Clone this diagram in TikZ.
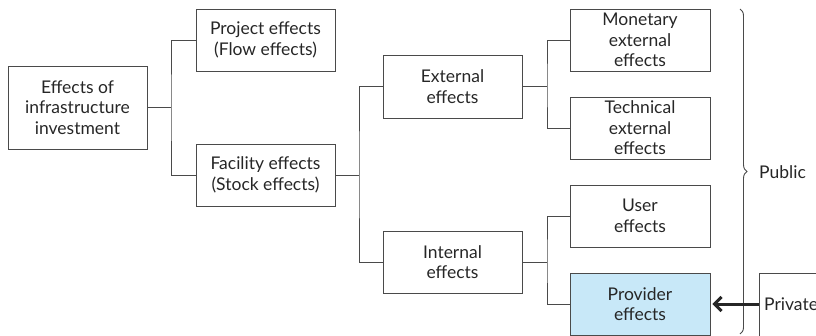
\documentclass[tikz,border=0pt]{standalone}
\usepackage{fontspec}
\setmainfont{Lato}
\usetikzlibrary{arrows.meta,decorations.pathreplacing}
\definecolor{linegray}{HTML}{4A4A4A}
\definecolor{textgray}{HTML}{262626}
\definecolor{provblue}{HTML}{C8E8F8}
\begin{document}
\begin{tikzpicture}[x=1pt,y=-1pt,
  lbl/.style={text=textgray,font=\fontsize{17.5}{20.5}\selectfont},
  box/.style={lbl,draw=linegray,line width=0.9pt,minimum width=139pt,minimum height=62pt,
    align=center,inner sep=0pt},
  link/.style={draw=linegray,line width=0.9pt}]
\useasboundingbox (0,0) rectangle (816,335);
\begin{scope}
\clip (0,0) rectangle (816,335);
% boxes
\node[box,minimum height=83pt] (root) at (77.5,107.5) {Effects of\\infrastructure\\investment};
\node[box] (proj) at (265.5,40) {Project effects\\(Flow effects)};
\node[box] (fac) at (265.5,175) {Facility effects\\(Stock effects)};
\node[box,minimum height=63pt] (ext) at (452.5,86.5) {External\\effects};
\node[box] (int) at (452.5,262) {Internal\\effects};
\node[box,minimum width=140pt] (mon) at (640,40) {Monetary\\external\\effects};
\node[box,minimum width=140pt] (tech) at (640,128) {Technical\\external\\effects};
\node[box,minimum width=140pt] (user) at (640,216) {User\\effects};
\node[box,minimum width=140pt,fill=provblue] (prov) at (640,304) {Provider\\effects};
\node[box,minimum width=80pt,minimum height=70pt,anchor=north west] (priv) at (759,273) {};
\node[lbl,anchor=west,inner sep=0pt] (privtxt) at (764,304) {Private};
% tree connectors
\draw[link] (root.east) -- (171,107.5) coordinate (j1);
\draw[link] (proj.west) -| (j1) |- (fac.west);
\draw[link] (fac.east) -- (359,175) coordinate (j2);
\draw[link] (ext.west) -| (j2) |- (int.west);
\draw[link] (ext.east) -- (547,86.5) coordinate (j3);
\draw[link] (mon.west) -| (j3) |- (tech.west);
\draw[link] (int.east) -- (547,262) coordinate (j4);
\draw[link] (user.west) -| (j4) |- (prov.west);
% brace and labels
\coordinate (btop) at (740,9);
\coordinate (bbot) at (740,334);
\draw[link,decorate,decoration={brace,amplitude=7pt}] (btop) -- (bbot);
\node[lbl,anchor=west,inner sep=0pt] (pub) at (759,172) {Public};
% arrow from private to provider
\draw[line width=3pt,textgray,-{Straight Barb[length=7pt,width=14pt]}] (priv.west |- prov.east) -- ([xshift=2pt]prov.east);
\end{scope}
\end{tikzpicture}
\end{document}
